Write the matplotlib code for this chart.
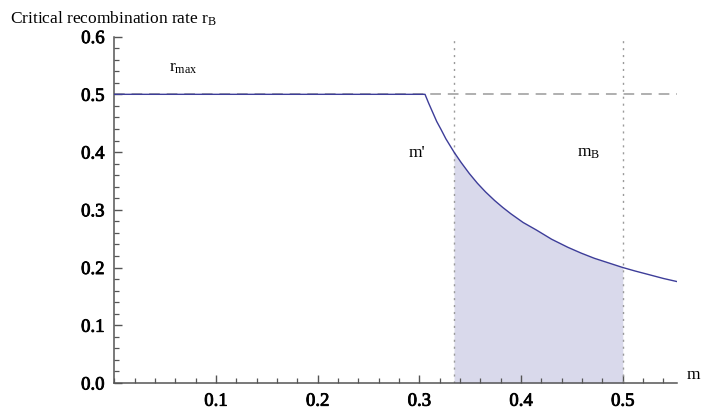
import numpy as np
import matplotlib
matplotlib.use("Agg")
import matplotlib.pyplot as plt
import matplotlib.patheffects as pe
from matplotlib.ticker import MultipleLocator, FormatStrFormatter

plt.rcParams['font.family'] = ['Liberation Serif', 'DejaVu Serif']
plt.rcParams['mathtext.fontset'] = 'custom'
plt.rcParams['mathtext.rm'] = 'Liberation Serif'
plt.rcParams['mathtext.it'] = 'Liberation Serif:italic'

# critical recombination rate
m_vals = [0.0, 0.3055, 0.309, 0.313, 0.317, 0.321, 0.326, 0.334, 0.341, 0.349,
          0.357, 0.365, 0.374, 0.382, 0.390, 0.402, 0.415, 0.430, 0.446, 0.459,
          0.472, 0.486, 0.500, 0.512, 0.525, 0.540, 0.555]
r_vals = [0.5, 0.5, 0.485, 0.469, 0.453, 0.440, 0.423, 0.400, 0.382, 0.363,
          0.346, 0.331, 0.316, 0.304, 0.293, 0.278, 0.265, 0.249, 0.235, 0.225,
          0.216, 0.208, 0.200, 0.194, 0.188, 0.181, 0.175]

r_max = 0.5
m_prime = 0.334
m_B = 0.5

m = np.array(m_vals)
r = np.array(r_vals)

fig = plt.figure(figsize=(7.03, 4.12), dpi=100)
ax = fig.add_axes([0.1626, 0.0704, 0.8, 0.8408])

line_col = '#3d3d99'
grey = '#9a9a9a'

mask = (m >= m_prime - 1e-9) & (m <= m_B + 1e-9)
ax.fill_between(m[mask], 0, r[mask], color='#d9d9eb', lw=0, zorder=1)

ax.axhline(r_max, color=grey, lw=1.1, ls=(0, (7, 4.5)), zorder=2)
for xv in (m_prime, m_B):
    ax.axvline(xv, color=grey, lw=1.0, ls=(0, (1.5, 3.5)), zorder=2)

ax.plot(m, r, color=line_col, lw=1.0, zorder=3)

ax.set_xlim(0, 0.553)
ax.set_ylim(0, 0.6)

ax.xaxis.set_major_locator(MultipleLocator(0.1))
ax.xaxis.set_minor_locator(MultipleLocator(0.02))
ax.yaxis.set_major_locator(MultipleLocator(0.1))
ax.yaxis.set_minor_locator(MultipleLocator(0.02))
ax.xaxis.set_major_formatter(FormatStrFormatter('%.1f'))
ax.yaxis.set_major_formatter(FormatStrFormatter('%.1f'))
ax.set_xticks([0.1, 0.2, 0.3, 0.4, 0.5])

for s in ('top', 'right'):
    ax.spines[s].set_visible(False)
for s in ('left', 'bottom'):
    ax.spines[s].set_color('#555555')
    ax.spines[s].set_linewidth(1.1)

ax.tick_params(which='major', direction='in', length=6, width=1.0,
               color='#555555', labelsize=13.5, pad=7)
ax.tick_params(which='minor', direction='in', length=3.5, width=0.9,
               color='#555555')
# slightly heavier tick numbers, like the original
for lbl in ax.get_xticklabels() + ax.get_yticklabels():
    lbl.set_path_effects([pe.withStroke(linewidth=0.6, foreground='black')])

ax.text(0.068, 0.545, r'r$_{\mathrm{max}}$', fontsize=12.5,
        ha='center', va='center')
ax.text(0.298, 0.398, "m'", fontsize=12.5, ha='center', va='center')
ax.text(0.466, 0.398, r'm$_{\mathrm{B}}$', fontsize=12.5,
        ha='center', va='center')

fig.text(0.014, 0.955, r'Critical recombination rate r$_{\mathrm{B}}$',
         fontsize=12.5, ha='left', va='center')
fig.text(0.986, 0.09, 'm', fontsize=12.5, ha='center', va='center')

fig.savefig('out.png', dpi=100)
